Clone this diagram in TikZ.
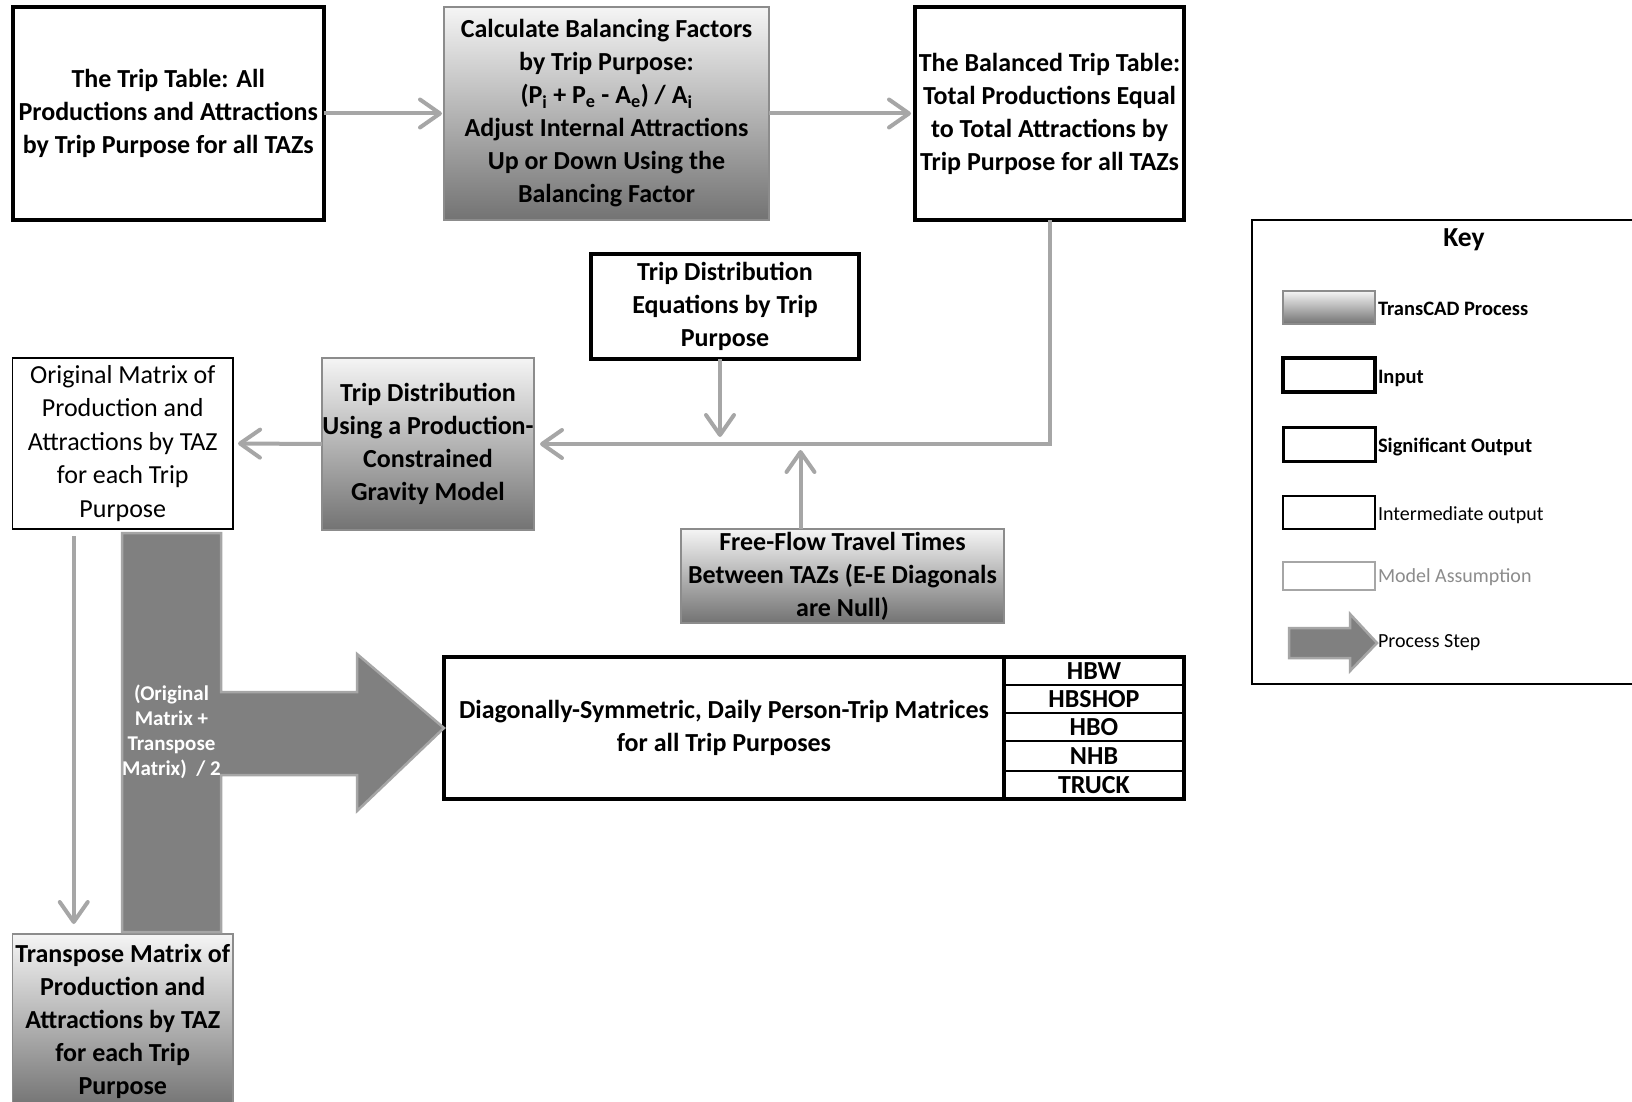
\documentclass[tikz,border=0pt]{standalone}
\usepackage{fontspec}
\setmainfont{Carlito}
\usetikzlibrary{arrows.meta}
\definecolor{conncol}{HTML}{A6A6A6}
\definecolor{bigfill}{HTML}{808080}
\definecolor{procedge}{HTML}{8C8C8C}
\definecolor{assume}{HTML}{8C8C8C}
\begin{document}
\begin{tikzpicture}[x=1pt,y=-1pt,
  every node/.style={inner sep=0pt, outer sep=0pt},
  boxbase/.style={rectangle, anchor=north west, align=center, font=\bfseries\fontsize{26}{33}\selectfont},
  inputbox/.style={boxbase, draw=black, line width=4pt, fill=white},
  procbox/.style={boxbase, draw=procedge, line width=1.5pt, top color=black!4, bottom color=black!55},
  interbox/.style={boxbase, draw=black, line width=1.5pt, fill=white, font=\fontsize{26}{33.5}\selectfont},
  sigbox/.style={boxbase, draw=black, line width=3.5pt},
  cellbox/.style={boxbase, draw=black, line width=2pt, minimum width=180, font=\bfseries\fontsize{26}{28}\selectfont},
  conn/.style={draw=conncol, line width=4pt, -{Straight Barb[length=20pt,width=28pt,round]}},
  bigarrow/.style={fill=bigfill, draw=conncol, line width=2.5pt, line join=miter},
  keylabel/.style={anchor=west, font=\bfseries\fontsize{20.5}{24}\selectfont},
  keylabelreg/.style={anchor=west, font=\fontsize{20}{24}\selectfont},
]
\path[use as bounding box, fill=white] (0,0) rectangle (1632,1102);

% main boxes
\node[inputbox, minimum width=311.5, minimum height=213] (tt) at (12.5,7)
  {The Trip Table: All\\Productions and Attractions\\by Trip Purpose for all TAZs};
\node[procbox, minimum width=325, minimum height=213] (calc) at (444,7)
  {Calculate Balancing Factors\\by Trip Purpose:\\(P\textsubscript{i} + P\textsubscript{e} - A\textsubscript{e}) / A\textsubscript{i}\\Adjust Internal Attractions\\Up or Down Using the\\Balancing Factor};
\node[inputbox, minimum width=269, minimum height=213] (bal) at (915,7)
  {The Balanced Trip Table:\\Total Productions Equal\\to Total Attractions by\\Trip Purpose for all TAZs};
\node[inputbox, minimum width=268, minimum height=105] (eq) at (591,254)
  {Trip Distribution\\Equations by Trip\\Purpose};
\node[interbox, minimum width=220.5, minimum height=171] (orig) at (12.5,358)
  {Original Matrix of\\Production and\\Attractions by TAZ\\for each Trip\\Purpose};
\node[procbox, minimum width=212, minimum height=172] (grav) at (322,358)
  {Trip Distribution\\Using a Production-\\Constrained\\Gravity Model};
\node[procbox, minimum width=323, minimum height=94] (ff) at (681,529)
  {Free-Flow Travel Times\\Between TAZs (E-E Diagonals\\are Null)};
\node[procbox, minimum width=220.5, minimum height=174] (tr) at (12.5,934)
  {Transpose Matrix of\\Production and\\Attractions by TAZ\\for each Trip\\Purpose};

% output table
\node[sigbox, minimum width=560, minimum height=142] (diag) at (444,657)
  {Diagonally-Symmetric, Daily Person-Trip Matrices\\for all Trip Purposes};
\node[cellbox, minimum height=28] (hbw) at (1004,657) {HBW};
\node[cellbox, minimum height=28] (hbshop) at (1004,685) {HBSHOP};
\node[cellbox, minimum height=28] (hbo) at (1004,713) {HBO};
\node[cellbox, minimum height=30] (nhb) at (1004,741) {NHB};
\node[cellbox, minimum height=28] (truck) at (1004,771) {TRUCK};
\draw[line width=3.5pt] (diag.north west) rectangle (truck.south east);

% connectors
\draw[conn] (tt.east) -- ([xshift=-2pt]calc.west);
\draw[conn] (calc.east) -- ([xshift=-4pt]bal.west);
\draw[conn] (bal.south) -- (bal.south |- grav.east) -- ([xshift=6pt]grav.east);
\path (eq.south) ++(-5,78) coordinate (eqtip);
\draw[conn] (eq.south -| eqtip) -- (eqtip);
\path (ff.north) ++(-42,-79) coordinate (fftip);
\draw[conn] (ff.north -| fftip) -- (fftip);
\draw[conn] (grav.west) -- ([xshift=5pt]orig.east);
\draw[conn] ([xshift=-49pt,yshift=-7pt]orig.south) -- ([xshift=-49pt,yshift=10pt]tr.north);

% big process arrow
\draw[bigarrow] (122,533) -- (221,533) -- (221,692) -- (357,692) -- (357,654)
  -- (diag.west) -- (357,811) -- (357,775) -- (221,775) -- (221,932) -- (122,932) -- cycle;
\node[align=center, text=white, font=\bfseries\fontsize{21}{25}\selectfont] (avg) at (171.5,732)
  {(Original\\Matrix +\\Transpose\\Matrix)\ \ / 2};

% key
\draw[line width=2pt] (1252,220) rectangle (1650,684);
\node[font=\bfseries\fontsize{27.5}{30}\selectfont] (keyt) at (1464,240) {Key};
\node[procbox, minimum width=92, minimum height=33] (k1) at (1283,291) {};
\node[keylabel] at (1378,309) {TransCAD Process};
\node[inputbox, line width=3.5pt, minimum width=92, minimum height=34] (k2) at (1283,358) {};
\node[keylabel] at (1378,378) {Input};
\node[sigbox, line width=3pt, minimum width=92, minimum height=34] (k3) at (1283,427) {};
\node[keylabel] at (1378,447) {Significant Output};
\node[interbox, minimum width=92, minimum height=33] (k4) at (1283,496) {};
\node[keylabelreg] at (1378,515) {Intermediate output};
\node[boxbase, draw=conncol, line width=2pt, minimum width=92, minimum height=28] (k5) at (1283,562) {};
\node[keylabelreg, text=assume] at (1378,577) {Model Assumption};
\draw[bigarrow] (1289,628) -- (1350,628) -- (1350,614) -- (1377,643) -- (1350,671) -- (1350,658) -- (1289,658) -- cycle;
\node[keylabelreg] at (1378,643) {Process Step};
\end{tikzpicture}
\end{document}
